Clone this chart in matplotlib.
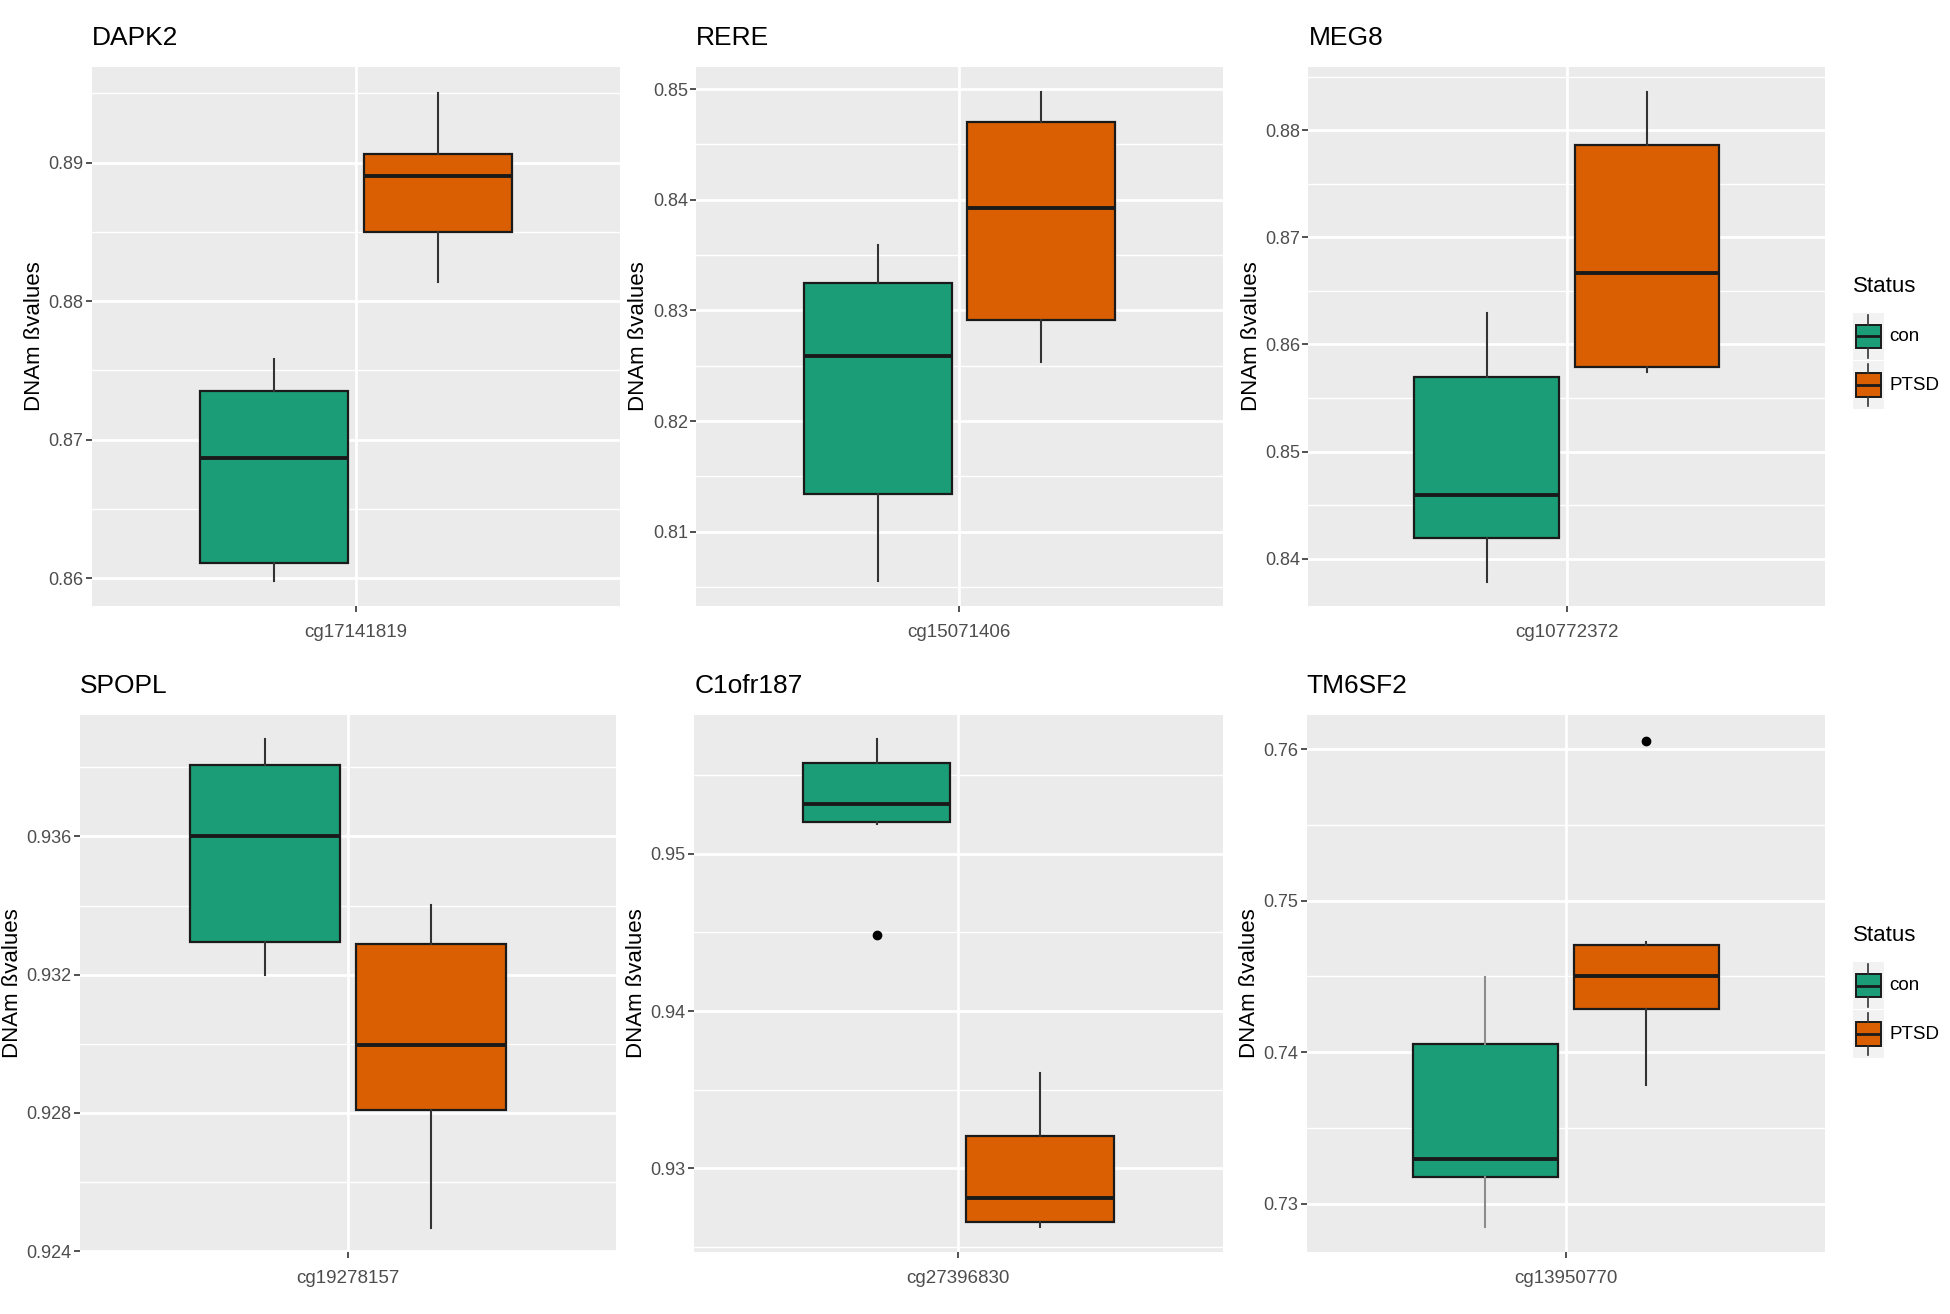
import matplotlib
matplotlib.use('Agg')
import matplotlib.pyplot as plt
from matplotlib import font_manager

# ---------------- data ----------------
genes = ['DAPK2', 'RERE', 'MEG8', 'SPOPL', 'C1ofr187', 'TM6SF2']
probes = ['cg17141819', 'cg15071406', 'cg10772372', 'cg19278157', 'cg27396830', 'cg13950770']
groups = ['con', 'PTSD']

# (whislo, q1, median, q3, whishi)
con_stats = [
    (0.8598, 0.8611, 0.8687, 0.8735, 0.8758),
    (0.8055, 0.8134, 0.8259, 0.8325, 0.8359),
    (0.8378, 0.8419, 0.8459, 0.8570, 0.8629),
    (0.93200, 0.93296, 0.93602, 0.93807, 0.93883),
    (0.95190, 0.95204, 0.95317, 0.95579, 0.95733),
    (0.72844, 0.73178, 0.73296, 0.74055, 0.74493),
]
ptsd_stats = [
    (0.8814, 0.8850, 0.8890, 0.8906, 0.8950),
    (0.8253, 0.8291, 0.8393, 0.8470, 0.8497),
    (0.8574, 0.8579, 0.8667, 0.8786, 0.8836),
    (0.92466, 0.92810, 0.92997, 0.93289, 0.93401),
    (0.92624, 0.92656, 0.92810, 0.93206, 0.93608),
    (0.73784, 0.74288, 0.74501, 0.74707, 0.74726),
]
con_outliers = [[], [], [], [], [0.94484], []]
ptsd_outliers = [[], [], [], [], [], [0.76055]]

y_ticks = [
    [0.86, 0.87, 0.88, 0.89],
    [0.81, 0.82, 0.83, 0.84, 0.85],
    [0.84, 0.85, 0.86, 0.87, 0.88],
    [0.924, 0.928, 0.932, 0.936],
    [0.93, 0.94, 0.95],
    [0.73, 0.74, 0.75, 0.76],
]
y_tick_labels = [
    ['0.86', '0.87', '0.88', '0.89'],
    ['0.81', '0.82', '0.83', '0.84', '0.85'],
    ['0.84', '0.85', '0.86', '0.87', '0.88'],
    ['0.924', '0.928', '0.932', '0.936'],
    ['0.93', '0.94', '0.95'],
    ['0.73', '0.74', '0.75', '0.76'],
]
y_minor = [
    [0.865, 0.875, 0.885, 0.895],
    [0.805, 0.815, 0.825, 0.835, 0.845],
    [0.845, 0.855, 0.865, 0.875, 0.885],
    [0.926, 0.930, 0.934, 0.938],
    [0.925, 0.935, 0.945, 0.955],
    [0.735, 0.745, 0.755],
]
y_limits = [
    (0.8580, 0.8969),
    (0.8033, 0.8520),
    (0.8356, 0.8859),
    (0.92397, 0.93952),
    (0.92466, 0.95884),
    (0.72679, 0.76227),
]

colors = ['#1B9E77', '#D95F02']

# ---------------- fonts ----------------
avail = {f.name for f in font_manager.fontManager.ttflist}
narrow = 'Liberation Sans Narrow' if 'Liberation Sans Narrow' in avail else 'Liberation Sans'
plt.rcParams['font.family'] = [narrow, 'DejaVu Sans']

fig = plt.figure(figsize=(19.5, 13.14), dpi=100)
fig.patch.set_facecolor('white')

# panel rectangles (left, right, bottom, top) in figure fractions
panels = [
    (0.047, 0.318, 0.539, 0.949),
    (0.357, 0.627, 0.539, 0.949),
    (0.671, 0.936, 0.539, 0.949),
    (0.041, 0.316, 0.047, 0.456),
    (0.356, 0.627, 0.047, 0.456),
    (0.670, 0.936, 0.047, 0.456),
]
# right edge of the rotated y label (figure fraction)
ylabel_x = [0.0230, 0.3330, 0.6470, 0.0120, 0.3320, 0.6460]
whisker_colors = ['#333333', '#333333', '#333333', '#333333', '#333333', '#333333']
con_whisker_colors = ['#333333', '#333333', '#333333', '#333333', '#333333', '#8c8c8c']

offset = 0.186
bw = 0.336

for i in range(6):
    l, r, b, t = panels[i]
    ax = fig.add_axes([l, b, r - l, t - b])
    ax.set_facecolor('#EBEBEB')
    for s in ax.spines.values():
        s.set_visible(False)
    ax.set_xlim(0.4, 1.6)
    ax.set_ylim(*y_limits[i])
    ax.set_yticks(y_ticks[i])
    ax.set_yticklabels(y_tick_labels[i])
    ax.set_yticks(y_minor[i], minor=True)
    ax.set_xticks([1.0])
    ax.set_xticklabels([probes[i]])
    ax.grid(which='major', axis='both', color='white', linewidth=2.0, zorder=0)
    ax.grid(which='minor', axis='y', color='white', linewidth=1.0, zorder=0)
    ax.set_axisbelow(True)
    ax.tick_params(axis='both', which='major', length=4, width=1.2, color='#333333',
                   labelcolor='#4D4D4D')
    ax.tick_params(axis='y', labelsize=13, pad=2)
    ax.tick_params(axis='x', labelsize=13.5, pad=9)
    ax.tick_params(which='minor', length=0)

    for g, (stats_list, outl) in enumerate([(con_stats, con_outliers), (ptsd_stats, ptsd_outliers)]):
        lo, q1, med, q3, hi = stats_list[i]
        st = [dict(whislo=lo, q1=q1, med=med, q3=q3, whishi=hi, fliers=outl[i])]
        pos = 1 - offset if g == 0 else 1 + offset
        wc = con_whisker_colors[i] if g == 0 else whisker_colors[i]
        ax.bxp(st, positions=[pos], widths=bw, patch_artist=True, showcaps=False,
               boxprops=dict(facecolor=colors[g], edgecolor='#1a1a1a', linewidth=1.6),
               medianprops=dict(color='#1a1a1a', linewidth=2.8),
               whiskerprops=dict(color=wc, linewidth=1.5),
               flierprops=dict(marker='o', markerfacecolor='black', markeredgecolor='black',
                               markersize=6),
               manage_ticks=False, zorder=3)

    ax.set_title(genes[i], loc='left', fontsize=19, color='black', pad=16)
    ax.set_ylabel('DNAm ßvalues', fontsize=16, family=['Liberation Sans', 'DejaVu Sans'],
                  color='black')
    ax.yaxis.set_label_coords(ylabel_x[i], (b + t) / 2, transform=fig.transFigure)

# ---------------- legends ----------------
legend_rows = [
    dict(title_y=0.782, key_y=[0.744, 0.707]),
    dict(title_y=0.288, key_y=[0.250, 0.213]),
]
key_w = 0.0154
key_h = 0.036
for row in legend_rows:
    fig.text(0.950, row['title_y'], 'Status', fontsize=16, va='center', ha='left', color='black')
    for g in range(2):
        cy = row['key_y'][g]
        kax = fig.add_axes([0.9505, cy - key_h / 2, key_w, key_h])
        kax.set_facecolor('#F2F2F2')
        for s in kax.spines.values():
            s.set_visible(False)
        kax.set_xticks([])
        kax.set_yticks([])
        kax.set_xlim(0, 1)
        kax.set_ylim(0, 1)
        kax.bxp([dict(whislo=0.05, q1=0.25, med=0.5, q3=0.75, whishi=0.95, fliers=[])],
                positions=[0.5], widths=0.8, patch_artist=True, showcaps=False,
                boxprops=dict(facecolor=colors[g], edgecolor='#1a1a1a', linewidth=1.4),
                medianprops=dict(color='#1a1a1a', linewidth=2.0),
                whiskerprops=dict(color='#333333', linewidth=1.2),
                manage_ticks=False)
        fig.text(0.969, cy, groups[g], fontsize=13.5, va='center', ha='left', color='black')

fig.savefig('out.png', dpi=100, facecolor='white')
